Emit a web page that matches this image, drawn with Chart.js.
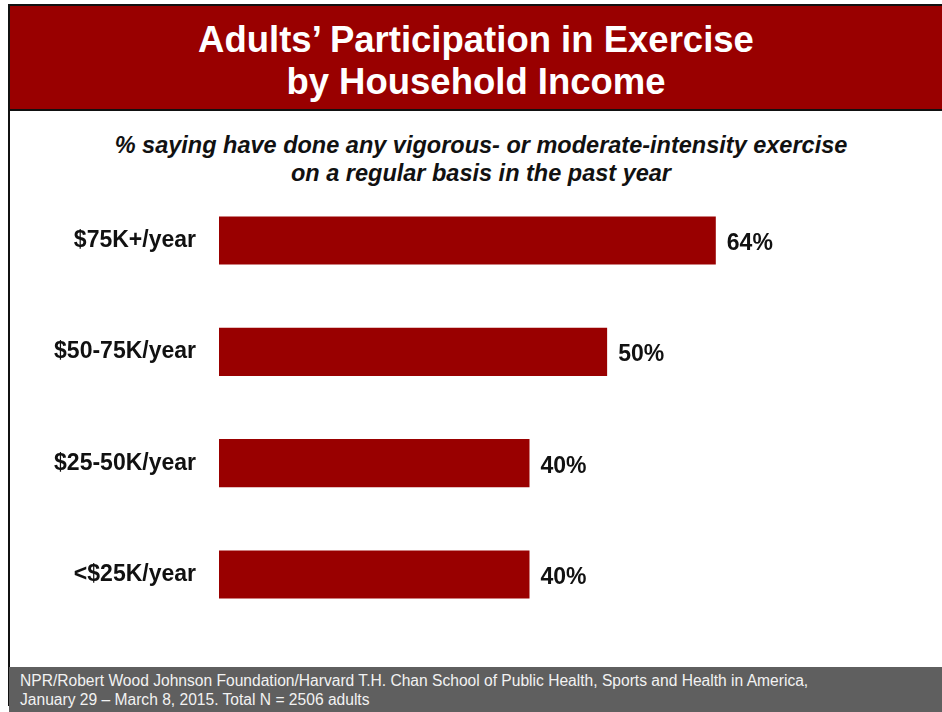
<!DOCTYPE html>
<html>
<head>
<meta charset="utf-8">
<script src="https://cdn.jsdelivr.net/npm/chart.js@4"></script>
<style>
  body { margin: 0; width: 942px; height: 712px; overflow: hidden; background: #fff;
         font-family: "Liberation Sans", Arial, sans-serif; position: relative; }
  #frame { position: absolute; left: 8px; top: 4px; width: 940px; height: 700px;
           border-left: 2px solid #111; border-top: 2px solid #111; }
  #header { position: absolute; left: 10px; top: 6px; width: 932px; height: 105px;
            background: #990000; border-bottom: 2px solid #111; color: #fff;
            font-weight: bold; font-size: 36.5px; line-height: 42px; text-align: center;
            padding: 13px 0 0 0; box-sizing: border-box; }
  #subtitle { position: absolute; left: 10px; top: 131px; width: 942px; text-align: center;
              font-weight: bold; font-style: italic; font-size: 23.5px; line-height: 28px; color: #111; }
  #footer { position: absolute; left: 9px; top: 667px; width: 933px; height: 45px;
            background: #5f5f5f; color: #f2f2f2; font-size: 15.6px; line-height: 18.5px;
            padding: 5px 0 0 11px; box-sizing: border-box; white-space: nowrap; }
  #incomeChart { position: absolute; left: 0; top: 156px; }
</style>
</head>
<body>
<div id="frame"></div>
<div id="header">Adults’ Participation in Exercise<br>by Household Income</div>
<div id="subtitle">% saying have done any vigorous- or moderate-intensity exercise<br>on a regular basis in the past year</div>
<canvas id="incomeChart" width="942" height="503"></canvas>
<div id="footer">NPR/Robert Wood Johnson Foundation/Harvard T.H. Chan School of Public Health, Sports and Health in America,<br>January 29 – March 8, 2015. Total N = 2506 adults</div>

<script>
  const incomeGroups = ["$75K+/year", "$50-75K/year", "$25-50K/year", "<$25K/year"];
  const exercisePct = [64, 50, 40, 40];

  // draws "64%" etc. to the right of each bar
  const valueLabels = {
    id: "valueLabels",
    afterDatasetsDraw(chart) {
      const ctx = chart.ctx;
      const meta = chart.getDatasetMeta(0);
      ctx.save();
      ctx.font = "bold 23px 'Liberation Sans', Arial, sans-serif";
      ctx.fillStyle = "#111";
      ctx.textAlign = "left";
      ctx.textBaseline = "middle";
      meta.data.forEach((bar, i) => {
        ctx.fillText(exercisePct[i] + "%", bar.x + 11, bar.y + 3);
      });
      ctx.restore();
    },
  };

  const data = {
    labels: incomeGroups,
    datasets: [
      {
        label: "Exercise",
        backgroundColor: "#990000",
        borderWidth: 0,
        data: exercisePct,
        categoryPercentage: 1,
        barPercentage: 0.432,
      },
    ],
  };

  const config = {
    type: "bar",
    data: data,
    options: {
      indexAxis: "y",
      responsive: false,
      animation: false,
      layout: { padding: { top: 4, bottom: 11, left: 0, right: 102 } },
      scales: {
        x: {
          display: false,
          min: 0,
          max: 80,
        },
        y: {
          grid: { display: false },
          border: { display: false },
          ticks: {
            color: "#111",
            padding: 15,
            font: { family: "'Liberation Sans', Arial, sans-serif", size: 23, weight: "bold" },
          },
          afterFit(scale) {
            scale.width = 219;
          },
        },
      },
      plugins: {
        legend: { display: false },
        tooltip: { enabled: false },
      },
    },
    plugins: [valueLabels],
  };

  const incomeChart = new Chart(document.getElementById("incomeChart"), config);
</script>
</body>
</html>
